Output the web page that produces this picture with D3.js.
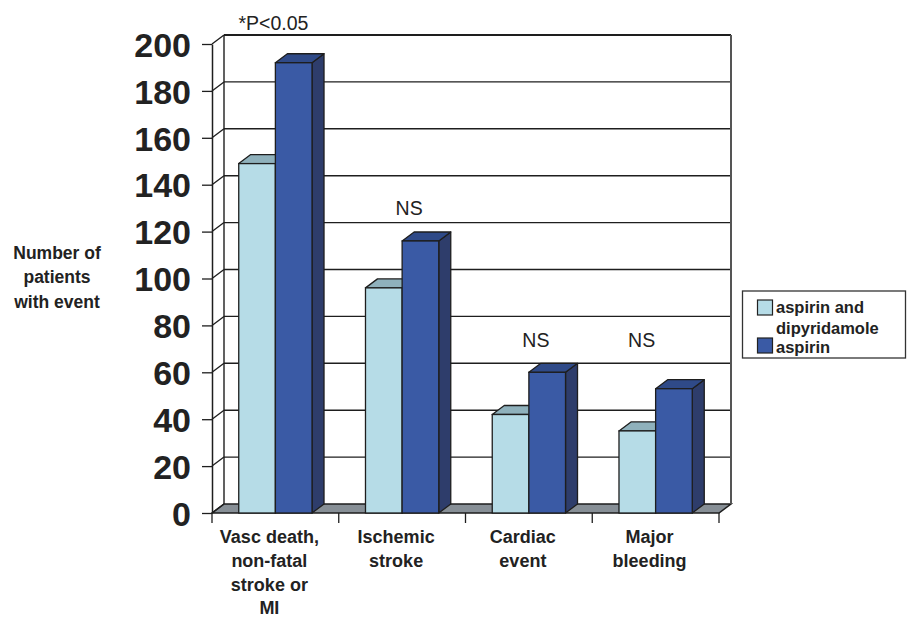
<!DOCTYPE html>
<html><head><meta charset="utf-8">
<script src="https://cdn.jsdelivr.net/npm/d3@7"></script>
<style>
html,body{margin:0;padding:0;background:#fff;}
svg{display:block;font-family:"Liberation Sans",Arial,Helvetica,sans-serif;}
</style></head>
<body><svg id="chart" width="907" height="620"></svg>
<script>
const categories = ["Vasc death, non-fatal stroke or MI","Ischemic stroke","Cardiac event","Major bleeding"];
const categoryLines = [["Vasc death,","non-fatal","stroke or","MI"],["Ischemic","stroke"],["Cardiac","event"],["Major","bleeding"]];
const seriesNames = ["aspirin and dipyridamole","aspirin"];
const comboValues = [149, 96, 42, 35];
const aspirinValues = [192, 116, 60, 53];
const yTicks = [0,20,40,60,80,100,120,140,160,180,200];
const annotations = ["*P<0.05","NS","NS","NS"];
const annotationLevels = [206, 127, 71, 71];

const colors = {
  combo: {front:"#b6dce7", top:"#8fb1bc", side:"#7fa0ab"},
  asp:   {front:"#3a5aa5", top:"#2f4a88", side:"#2e3d6b"}
};
const DX = 12, DY = -9;
const svg = d3.select("#chart");
const y = d3.scaleLinear().domain([0,200]).range([513,44]);
const x = d3.scaleBand().domain(categories).range([212,719]).paddingInner(0).paddingOuter(0);
const xs = d3.scaleBand().domain(seriesNames).range([0,x.bandwidth()]).paddingInner(0).paddingOuter(0.73);

const x0 = x.range()[0], x1 = x.range()[1];
const ink = "#1e1e1e";

// floor
svg.append("path")
  .attr("d", `M${x0},${y(0)}L${x1},${y(0)}L${x1+DX},${y(0)+DY}L${x0+DX},${y(0)+DY}Z`)
  .attr("fill","#878f96").attr("stroke",ink).attr("stroke-width",1.5);

// back wall gridlines
const grid = svg.append("g");
yTicks.forEach(t => {
  if (t === 0) return;
  grid.append("line").attr("x1",x0+DX).attr("x2",x1+DX).attr("y1",y(t)+DY).attr("y2",y(t)+DY)
    .attr("stroke",ink).attr("stroke-width", t===200 ? 2 : 1.4);
  grid.append("line").attr("x1",x0).attr("x2",x0+DX).attr("y1",y(t)).attr("y2",y(t)+DY)
    .attr("stroke",ink).attr("stroke-width",1.3);
});
grid.append("line").attr("x1",x0).attr("x2",x0+DX).attr("y1",y(0)).attr("y2",y(0)+DY).attr("stroke",ink).attr("stroke-width",1.3);
grid.append("line").attr("x1",x0+DX).attr("x2",x0+DX).attr("y1",y(200)+DY).attr("y2",y(0)+DY).attr("stroke",ink).attr("stroke-width",1.4);
grid.append("line").attr("x1",x1+DX).attr("x2",x1+DX).attr("y1",y(200)+DY).attr("y2",y(0)+DY).attr("stroke","#555").attr("stroke-width",2);

// bars
function bar(g, bx, w, v, c){
  const yt = y(v), yb = y(0);
  g.append("path").attr("d",`M${bx+w},${yb}L${bx+w+DX},${yb+DY}L${bx+w+DX},${yt+DY}L${bx+w},${yt}Z`)
    .attr("fill",c.side).attr("stroke",ink).attr("stroke-width",1.3).attr("stroke-linejoin","round");
  g.append("path").attr("d",`M${bx},${yt}L${bx+w},${yt}L${bx+w+DX},${yt+DY}L${bx+DX},${yt+DY}Z`)
    .attr("fill",c.top).attr("stroke",ink).attr("stroke-width",1.3).attr("stroke-linejoin","round");
  g.append("rect").attr("x",bx).attr("y",yt).attr("width",w).attr("height",yb-yt)
    .attr("fill",c.front).attr("stroke",ink).attr("stroke-width",1.3);
}
const bars = svg.append("g");
categories.forEach((cat,i) => {
  const g = bars.append("g");
  bar(g, x(cat)+xs(seriesNames[0]), xs.bandwidth(), comboValues[i], colors.combo);
  bar(g, x(cat)+xs(seriesNames[1]), xs.bandwidth(), aspirinValues[i], colors.asp);
});

// y axis
const yAxis = svg.append("g").attr("transform",`translate(${x0},0)`)
  .call(d3.axisLeft(y).tickValues(yTicks).tickSize(10).tickPadding(11).tickSizeOuter(0));
yAxis.select(".domain").attr("stroke",ink).attr("stroke-width",1.5);
yAxis.selectAll(".tick line").attr("stroke",ink).attr("stroke-width",1.3);
yAxis.selectAll(".tick text").attr("fill","#222").attr("font-size",34).attr("font-weight","bold")
  .attr("font-family","'Liberation Sans',Arial,sans-serif").attr("dy","0.36em");

// x axis ticks
const xAxis = svg.append("g");
const bounds = categories.map(c => x(c)).concat([x1]);
bounds.forEach(b => {
  xAxis.append("line").attr("x1",b).attr("x2",b).attr("y1",y(0)).attr("y2",y(0)+10).attr("stroke",ink).attr("stroke-width",1.3);
});
categories.forEach((cat,i) => {
  const t = xAxis.append("text").attr("text-anchor","middle").attr("font-size",18).attr("font-weight","bold").attr("fill","#222");
  categoryLines[i].forEach((ln,j) => {
    t.append("tspan").attr("x", x(cat)+x.bandwidth()/2 - 6).attr("y", 543 + j*23.8).text(ln);
  });
});

// y title
const yt = svg.append("text").attr("text-anchor","middle").attr("font-size",17.5).attr("font-weight","bold").attr("fill","#222");
["Number of","patients","with event"].forEach((ln,j) => {
  yt.append("tspan").attr("x",57).attr("y",259 + j*24.3).text(ln);
});

// annotations
const annOffsets = [-2, 7, 7, -14];
annotations.forEach((a,i) => {
  svg.append("text").attr("x", x(categories[i]) + x.bandwidth()/2 + annOffsets[i]).attr("y", y(annotationLevels[i]))
    .attr("text-anchor","middle").attr("font-size",19.5).attr("fill","#222").text(a);
});

// legend
const lg = svg.append("g");
lg.append("rect").attr("x",742.5).attr("y",291).attr("width",163).attr("height",67)
  .attr("fill","#fff").attr("stroke","#333").attr("stroke-width",1.3);
const legendItems = [
  {lines:["aspirin and","dipyridamole"], c:colors.combo.front, sy:300, base:313, gap:20.5},
  {lines:["aspirin"], c:colors.asp.front, sy:338, base:352.5, gap:0}
];
legendItems.forEach(it => {
  lg.append("rect").attr("x",757.5).attr("y",it.sy).attr("width",15).attr("height",15)
    .attr("fill",it.c).attr("stroke","#222").attr("stroke-width",1.2);
  it.lines.forEach((ln,j) => {
    lg.append("text").attr("x",776).attr("y",it.base+j*it.gap).attr("font-size",16.5).attr("font-weight","bold").attr("fill","#222").text(ln);
  });
});
</script></body></html>
